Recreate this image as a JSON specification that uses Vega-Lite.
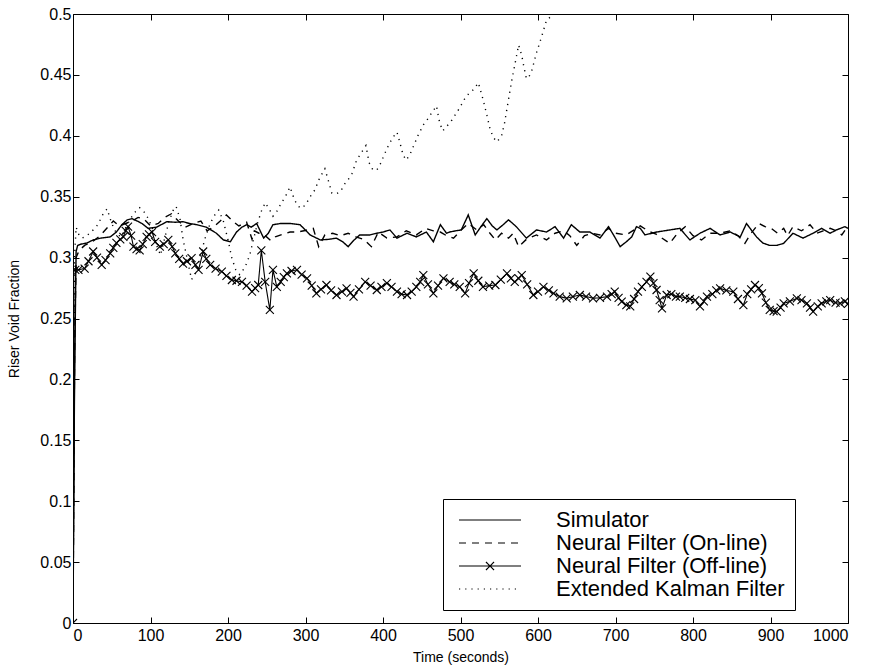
{
  "$schema": "https://vega.github.io/schema/vega-lite/v6.json",
  "width": 775,
  "height": 609,
  "autosize": {"type": "none"},
  "padding": {"left": 73, "top": 14, "right": 22, "bottom": 48},
  "background": "white",
  "config": {
    "view": {"stroke": "black", "strokeWidth": 1},
    "font": "Liberation Sans",
    "axis": {"labelFont": "Liberation Sans", "titleFont": "Liberation Sans", "labelColor": "black", "titleColor": "black", "tickColor": "black", "titleFontWeight": "normal", "grid": false, "domain": false, "tickSize": -6, "tickWidth": 1},
    "legend": {"labelFont": "Liberation Sans", "labelColor": "black"}
  },
  "datasets": {
    "sim": [
      {"t":0,"v":0},{"t":2,"v":0.2},{"t":4,"v":0.305},{"t":6,"v":0.31},{"t":10,"v":0.311},{"t":18,"v":0.312},{"t":26,"v":0.3145},{"t":36,"v":0.316},{"t":48,"v":0.317},{"t":56,"v":0.321},{"t":63,"v":0.327},{"t":70,"v":0.331},{"t":76,"v":0.332},{"t":83,"v":0.33},{"t":89,"v":0.328},{"t":97,"v":0.324},{"t":108,"v":0.325},{"t":121,"v":0.3295},{"t":132,"v":0.329},{"t":142,"v":0.3295},{"t":150,"v":0.328},{"t":160,"v":0.327},{"t":172,"v":0.325},{"t":185,"v":0.32},{"t":194,"v":0.3145},{"t":203,"v":0.313},{"t":211,"v":0.321},{"t":218,"v":0.325},{"t":224,"v":0.327},{"t":230,"v":0.325},{"t":237,"v":0.328},{"t":246,"v":0.316},{"t":252,"v":0.32},{"t":258,"v":0.327},{"t":268,"v":0.328},{"t":280,"v":0.328},{"t":293,"v":0.327},{"t":306,"v":0.3186},{"t":319,"v":0.3145},{"t":330,"v":0.315},{"t":340,"v":0.316},{"t":348,"v":0.313},{"t":355,"v":0.309},{"t":362,"v":0.314},{"t":370,"v":0.3186},{"t":383,"v":0.3186},{"t":392,"v":0.32},{"t":400,"v":0.321},{"t":409,"v":0.3227},{"t":418,"v":0.316},{"t":431,"v":0.32},{"t":443,"v":0.317},{"t":456,"v":0.321},{"t":465,"v":0.313},{"t":474,"v":0.327},{"t":482,"v":0.32},{"t":486,"v":0.321},{"t":494,"v":0.322},{"t":501,"v":0.3227},{"t":510,"v":0.335},{"t":519,"v":0.3186},{"t":527,"v":0.326},{"t":534,"v":0.332},{"t":541,"v":0.326},{"t":547,"v":0.3227},{"t":555,"v":0.327},{"t":562,"v":0.331},{"t":572,"v":0.3254},{"t":585,"v":0.316},{"t":598,"v":0.3227},{"t":611,"v":0.321},{"t":622,"v":0.3254},{"t":633,"v":0.316},{"t":643,"v":0.327},{"t":654,"v":0.321},{"t":667,"v":0.321},{"t":680,"v":0.316},{"t":691,"v":0.3254},{"t":698,"v":0.318},{"t":706,"v":0.309},{"t":714,"v":0.313},{"t":721,"v":0.317},{"t":727,"v":0.3254},{"t":732,"v":0.324},{"t":738,"v":0.3186},{"t":753,"v":0.321},{"t":770,"v":0.3227},{"t":783,"v":0.324},{"t":796,"v":0.3145},{"t":809,"v":0.32},{"t":822,"v":0.324},{"t":835,"v":0.3186},{"t":848,"v":0.321},{"t":861,"v":0.317},{"t":869,"v":0.328},{"t":876,"v":0.322},{"t":882,"v":0.317},{"t":890,"v":0.312},{"t":899,"v":0.31},{"t":908,"v":0.31},{"t":917,"v":0.3117},{"t":929,"v":0.32},{"t":942,"v":0.316},{"t":955,"v":0.32},{"t":966,"v":0.324},{"t":977,"v":0.32},{"t":985,"v":0.3227},{"t":996,"v":0.3254},{"t":1000,"v":0.324}
    ],
    "online": [
      {"t":0,"v":0},{"t":2,"v":0.22},{"t":4,"v":0.3},{"t":8,"v":0.306},{"t":15,"v":0.31},{"t":25,"v":0.313},{"t":35,"v":0.318},{"t":45,"v":0.325},{"t":52,"v":0.33},{"t":60,"v":0.326},{"t":68,"v":0.328},{"t":76,"v":0.33},{"t":84,"v":0.333},{"t":91,"v":0.332},{"t":100,"v":0.326},{"t":110,"v":0.328},{"t":118,"v":0.333},{"t":127,"v":0.336},{"t":136,"v":0.33},{"t":145,"v":0.325},{"t":155,"v":0.328},{"t":165,"v":0.33},{"t":173,"v":0.322},{"t":181,"v":0.325},{"t":190,"v":0.33},{"t":198,"v":0.335},{"t":206,"v":0.33},{"t":214,"v":0.326},{"t":224,"v":0.329},{"t":231,"v":0.315},{"t":234,"v":0.322},{"t":240,"v":0.32},{"t":248,"v":0.318},{"t":255,"v":0.314},{"t":261,"v":0.317},{"t":270,"v":0.319},{"t":280,"v":0.321},{"t":289,"v":0.321},{"t":298,"v":0.322},{"t":310,"v":0.324},{"t":317,"v":0.309},{"t":325,"v":0.3186},{"t":335,"v":0.32},{"t":345,"v":0.318},{"t":355,"v":0.32},{"t":365,"v":0.317},{"t":375,"v":0.315},{"t":385,"v":0.309},{"t":394,"v":0.321},{"t":405,"v":0.316},{"t":418,"v":0.317},{"t":430,"v":0.322},{"t":443,"v":0.3186},{"t":455,"v":0.324},{"t":465,"v":0.322},{"t":474,"v":0.321},{"t":482,"v":0.318},{"t":491,"v":0.316},{"t":500,"v":0.322},{"t":510,"v":0.328},{"t":521,"v":0.3227},{"t":530,"v":0.327},{"t":538,"v":0.32},{"t":545,"v":0.3145},{"t":553,"v":0.32},{"t":562,"v":0.316},{"t":568,"v":0.32},{"t":575,"v":0.309},{"t":585,"v":0.315},{"t":598,"v":0.3186},{"t":611,"v":0.3145},{"t":622,"v":0.32},{"t":633,"v":0.322},{"t":641,"v":0.318},{"t":650,"v":0.31},{"t":660,"v":0.318},{"t":670,"v":0.32},{"t":680,"v":0.3186},{"t":691,"v":0.324},{"t":700,"v":0.32},{"t":714,"v":0.3186},{"t":722,"v":0.322},{"t":732,"v":0.326},{"t":742,"v":0.322},{"t":753,"v":0.319},{"t":770,"v":0.3117},{"t":780,"v":0.32},{"t":790,"v":0.3254},{"t":800,"v":0.318},{"t":811,"v":0.3145},{"t":822,"v":0.32},{"t":835,"v":0.32},{"t":848,"v":0.322},{"t":858,"v":0.318},{"t":867,"v":0.3117},{"t":875,"v":0.32},{"t":885,"v":0.328},{"t":893,"v":0.3254},{"t":901,"v":0.324},{"t":909,"v":0.32},{"t":917,"v":0.324},{"t":922,"v":0.318},{"t":929,"v":0.3254},{"t":940,"v":0.322},{"t":951,"v":0.327},{"t":960,"v":0.32},{"t":968,"v":0.322},{"t":977,"v":0.324},{"t":985,"v":0.322},{"t":992,"v":0.3186},{"t":1000,"v":0.326}
    ],
    "offline": [
      {"t":0,"v":0},{"t":3,"v":0.29},{"t":7,"v":0.29},{"t":15,"v":0.291},{"t":20,"v":0.297},{"t":26,"v":0.305},{"t":31,"v":0.3},{"t":37,"v":0.294},{"t":42,"v":0.298},{"t":48,"v":0.3035},{"t":52,"v":0.308},{"t":56,"v":0.312},{"t":61,"v":0.315},{"t":65,"v":0.317},{"t":68,"v":0.322},{"t":71,"v":0.3254},{"t":75,"v":0.318},{"t":78,"v":0.309},{"t":82,"v":0.307},{"t":86,"v":0.306},{"t":90,"v":0.311},{"t":95,"v":0.317},{"t":98,"v":0.319},{"t":102,"v":0.321},{"t":106,"v":0.313},{"t":112,"v":0.309},{"t":117,"v":0.311},{"t":123,"v":0.3145},{"t":128,"v":0.309},{"t":132,"v":0.3035},{"t":137,"v":0.299},{"t":142,"v":0.295},{"t":147,"v":0.297},{"t":153,"v":0.2995},{"t":158,"v":0.294},{"t":162,"v":0.29},{"t":168,"v":0.305},{"t":172,"v":0.299},{"t":177,"v":0.294},{"t":184,"v":0.291},{"t":192,"v":0.2885},{"t":198,"v":0.285},{"t":205,"v":0.2816},{"t":211,"v":0.281},{"t":218,"v":0.28},{"t":224,"v":0.277},{"t":231,"v":0.272},{"t":235,"v":0.275},{"t":239,"v":0.2775},{"t":243,"v":0.306},{"t":248,"v":0.28},{"t":254,"v":0.257},{"t":258,"v":0.29},{"t":263,"v":0.276},{"t":268,"v":0.28},{"t":272,"v":0.284},{"t":276,"v":0.287},{"t":282,"v":0.289},{"t":289,"v":0.29},{"t":295,"v":0.286},{"t":302,"v":0.283},{"t":308,"v":0.277},{"t":314,"v":0.2707},{"t":320,"v":0.274},{"t":327,"v":0.2775},{"t":333,"v":0.273},{"t":340,"v":0.2693},{"t":347,"v":0.272},{"t":353,"v":0.2748},{"t":358,"v":0.271},{"t":362,"v":0.268},{"t":369,"v":0.274},{"t":377,"v":0.28},{"t":384,"v":0.277},{"t":392,"v":0.2734},{"t":398,"v":0.276},{"t":405,"v":0.279},{"t":411,"v":0.276},{"t":418,"v":0.272},{"t":424,"v":0.27},{"t":431,"v":0.2693},{"t":437,"v":0.272},{"t":443,"v":0.276},{"t":448,"v":0.28},{"t":452,"v":0.2857},{"t":458,"v":0.278},{"t":465,"v":0.2707},{"t":471,"v":0.277},{"t":478,"v":0.283},{"t":486,"v":0.28},{"t":492,"v":0.278},{"t":499,"v":0.276},{"t":506,"v":0.2707},{"t":511,"v":0.279},{"t":517,"v":0.287},{"t":523,"v":0.281},{"t":529,"v":0.276},{"t":537,"v":0.277},{"t":545,"v":0.2775},{"t":552,"v":0.282},{"t":560,"v":0.287},{"t":565,"v":0.283},{"t":570,"v":0.28},{"t":575,"v":0.283},{"t":579,"v":0.2857},{"t":586,"v":0.278},{"t":594,"v":0.2693},{"t":600,"v":0.272},{"t":607,"v":0.276},{"t":614,"v":0.273},{"t":620,"v":0.2707},{"t":628,"v":0.268},{"t":637,"v":0.2666},{"t":645,"v":0.268},{"t":654,"v":0.2693},{"t":662,"v":0.268},{"t":671,"v":0.2666},{"t":680,"v":0.267},{"t":689,"v":0.268},{"t":695,"v":0.27},{"t":699,"v":0.272},{"t":704,"v":0.267},{"t":708,"v":0.2638},{"t":714,"v":0.261},{"t":719,"v":0.26},{"t":724,"v":0.266},{"t":729,"v":0.272},{"t":734,"v":0.276},{"t":740,"v":0.28},{"t":745,"v":0.2843},{"t":749,"v":0.279},{"t":753,"v":0.2734},{"t":757,"v":0.265},{"t":760,"v":0.2584},{"t":766,"v":0.2693},{"t":772,"v":0.27},{"t":778,"v":0.268},{"t":783,"v":0.268},{"t":790,"v":0.267},{"t":796,"v":0.266},{"t":803,"v":0.265},{"t":809,"v":0.26},{"t":814,"v":0.264},{"t":818,"v":0.268},{"t":825,"v":0.27},{"t":830,"v":0.273},{"t":835,"v":0.2748},{"t":843,"v":0.273},{"t":852,"v":0.272},{"t":858,"v":0.266},{"t":865,"v":0.261},{"t":870,"v":0.27},{"t":875,"v":0.274},{"t":880,"v":0.2775},{"t":885,"v":0.275},{"t":889,"v":0.2707},{"t":894,"v":0.263},{"t":899,"v":0.257},{"t":904,"v":0.256},{"t":908,"v":0.2556},{"t":913,"v":0.259},{"t":917,"v":0.2625},{"t":925,"v":0.264},{"t":934,"v":0.2666},{"t":940,"v":0.265},{"t":947,"v":0.2625},{"t":951,"v":0.259},{"t":955,"v":0.2556},{"t":961,"v":0.26},{"t":966,"v":0.2625},{"t":972,"v":0.264},{"t":977,"v":0.265},{"t":984,"v":0.263},{"t":990,"v":0.2625},{"t":996,"v":0.264},{"t":1000,"v":0.262}
    ],
    "ekf": [
      {"t":0,"v":0},{"t":1,"v":0.15},{"t":2,"v":0.3},{"t":4,"v":0.325},{"t":8,"v":0.318},{"t":12,"v":0.316},{"t":18,"v":0.318},{"t":25,"v":0.322},{"t":32,"v":0.327},{"t":39,"v":0.336},{"t":44,"v":0.34},{"t":50,"v":0.328},{"t":56,"v":0.32},{"t":62,"v":0.317},{"t":70,"v":0.327},{"t":78,"v":0.336},{"t":86,"v":0.341},{"t":94,"v":0.336},{"t":102,"v":0.325},{"t":108,"v":0.31},{"t":113,"v":0.302},{"t":118,"v":0.315},{"t":124,"v":0.33},{"t":130,"v":0.34},{"t":133,"v":0.342},{"t":138,"v":0.332},{"t":142,"v":0.315},{"t":147,"v":0.3},{"t":153,"v":0.282},{"t":158,"v":0.287},{"t":164,"v":0.3},{"t":170,"v":0.315},{"t":177,"v":0.328},{"t":183,"v":0.335},{"t":188,"v":0.339},{"t":194,"v":0.33},{"t":200,"v":0.3145},{"t":205,"v":0.2995},{"t":210,"v":0.29},{"t":215,"v":0.286},{"t":222,"v":0.292},{"t":228,"v":0.302},{"t":233,"v":0.315},{"t":238,"v":0.328},{"t":243,"v":0.338},{"t":248,"v":0.345},{"t":253,"v":0.34},{"t":258,"v":0.334},{"t":263,"v":0.338},{"t":269,"v":0.345},{"t":274,"v":0.35},{"t":280,"v":0.358},{"t":286,"v":0.347},{"t":293,"v":0.3405},{"t":300,"v":0.343},{"t":306,"v":0.35},{"t":312,"v":0.3555},{"t":318,"v":0.365},{"t":325,"v":0.373},{"t":330,"v":0.362},{"t":334,"v":0.353},{"t":340,"v":0.3525},{"t":345,"v":0.354},{"t":350,"v":0.36},{"t":355,"v":0.364},{"t":360,"v":0.369},{"t":366,"v":0.38},{"t":372,"v":0.386},{"t":378,"v":0.392},{"t":382,"v":0.378},{"t":387,"v":0.372},{"t":392,"v":0.372},{"t":396,"v":0.376},{"t":402,"v":0.385},{"t":407,"v":0.392},{"t":412,"v":0.398},{"t":418,"v":0.403},{"t":422,"v":0.394},{"t":426,"v":0.384},{"t":430,"v":0.38},{"t":435,"v":0.385},{"t":439,"v":0.391},{"t":445,"v":0.4},{"t":452,"v":0.409},{"t":458,"v":0.414},{"t":463,"v":0.419},{"t":469,"v":0.4245},{"t":473,"v":0.411},{"t":477,"v":0.404},{"t":482,"v":0.4075},{"t":489,"v":0.413},{"t":494,"v":0.418},{"t":499,"v":0.423},{"t":505,"v":0.43},{"t":511,"v":0.435},{"t":517,"v":0.438},{"t":523,"v":0.4436},{"t":529,"v":0.43},{"t":534,"v":0.417},{"t":538,"v":0.406},{"t":542,"v":0.399},{"t":547,"v":0.395},{"t":553,"v":0.3998},{"t":557,"v":0.411},{"t":562,"v":0.43},{"t":566,"v":0.445},{"t":570,"v":0.458},{"t":575,"v":0.4745},{"t":579,"v":0.466},{"t":582,"v":0.456},{"t":585,"v":0.447},{"t":588,"v":0.448},{"t":592,"v":0.4535},{"t":598,"v":0.468},{"t":605,"v":0.482},{"t":611,"v":0.495},{"t":620,"v":0.4995},{"t":626,"v":0.51},{"t":640,"v":0.54}
    ]
  },
  "resolve": {"axis": {"x": "independent", "y": "independent"}},
  "layer": [
    {
      "data": {"name": "sim"},
      "mark": {"type": "line", "color": "black", "strokeWidth": 1.4, "clip": true},
      "encoding": {
        "x": {"field": "t", "type": "quantitative", "scale": {"domain": [0, 1000], "nice": false, "zero": false},
              "axis": {"orient": "bottom", "values": [0,100,200,300,400,500,600,700,800,900,1000], "format": "d", "labelFontSize": 16, "labelPadding": 10, "title": "Time (seconds)", "titleFontSize": 14, "titleY": 34, "titleBaseline": "middle"}},
        "y": {"field": "v", "type": "quantitative", "scale": {"domain": [0, 0.5], "nice": false, "zero": false},
              "axis": {"orient": "left", "values": [0,0.05,0.1,0.15,0.2,0.25,0.3,0.35,0.4,0.45,0.5], "format": "~g", "labelFontSize": 16, "labelPadding": 8, "title": "Riser Void Fraction", "titleFontSize": 14, "titleX": -59, "titleBaseline": "middle"}},
        "strokeDash": {"datum": "Simulator", "type": "nominal",
          "scale": {"domain": ["Simulator", "Neural Filter (On-line)", "Neural Filter (Off-line)", "Extended Kalman Filter"], "range": [[1, 0], [7, 6], [1, 0], [1.2, 5]]},
          "legend": {"orient": "none", "legendX": 370, "legendY": 485, "title": null, "symbolSize": 400, "symbolStrokeWidth": 1.2, "symbolStrokeColor": "black", "symbolOffset": 26, "labelFontSize": 22, "labelLimit": 500, "labelOffset": 55, "padding": 10, "rowPadding": 1, "strokeColor": "black", "fillColor": "white",
            "encode": {"symbols": {"update": {"shape": {"signal": "datum.value === 'Neural Filter (Off-line)' ? 'M-3.1,0L3.1,0M-0.4,-0.4L0.4,0.4M-0.4,0.4L0.4,-0.4' : 'M-3.1,0L3.1,0'"}}}}}
        }
      }
    },
    {
      "data": {"name": "online"},
      "mark": {"type": "line", "color": "black", "strokeWidth": 1.4, "clip": true},
      "encoding": {
        "x": {"field": "t", "type": "quantitative", "axis": null},
        "y": {"field": "v", "type": "quantitative", "axis": null},
        "strokeDash": {"datum": "Neural Filter (On-line)", "type": "nominal"}
      }
    },
    {
      "data": {"name": "offline"},
      "mark": {"type": "line", "color": "black", "strokeWidth": 1.1, "clip": true},
      "encoding": {
        "x": {"field": "t", "type": "quantitative", "axis": null},
        "y": {"field": "v", "type": "quantitative", "axis": null},
        "strokeDash": {"datum": "Neural Filter (Off-line)", "type": "nominal"}
      }
    },
    {
      "data": {"name": "ekf"},
      "mark": {"type": "line", "color": "black", "strokeWidth": 1.4, "clip": true},
      "encoding": {
        "x": {"field": "t", "type": "quantitative", "axis": null},
        "y": {"field": "v", "type": "quantitative", "axis": null},
        "strokeDash": {"datum": "Extended Kalman Filter", "type": "nominal"}
      }
    },
    {
      "data": {"name": "offline"},
      "mark": {"type": "point", "shape": "M-1,-1L1,1M-1,1L1,-1", "filled": false, "stroke": "black", "strokeWidth": 1.1, "size": 64, "opacity": 1, "clip": true},
      "encoding": {
        "x": {"field": "t", "type": "quantitative", "axis": {"orient": "top", "values": [0,100,200,300,400,500,600,700,800,900,1000], "labels": false, "title": null}},
        "y": {"field": "v", "type": "quantitative", "axis": {"orient": "right", "values": [0,0.05,0.1,0.15,0.2,0.25,0.3,0.35,0.4,0.45,0.5], "labels": false, "title": null}}
      }
    }
  ]
}
